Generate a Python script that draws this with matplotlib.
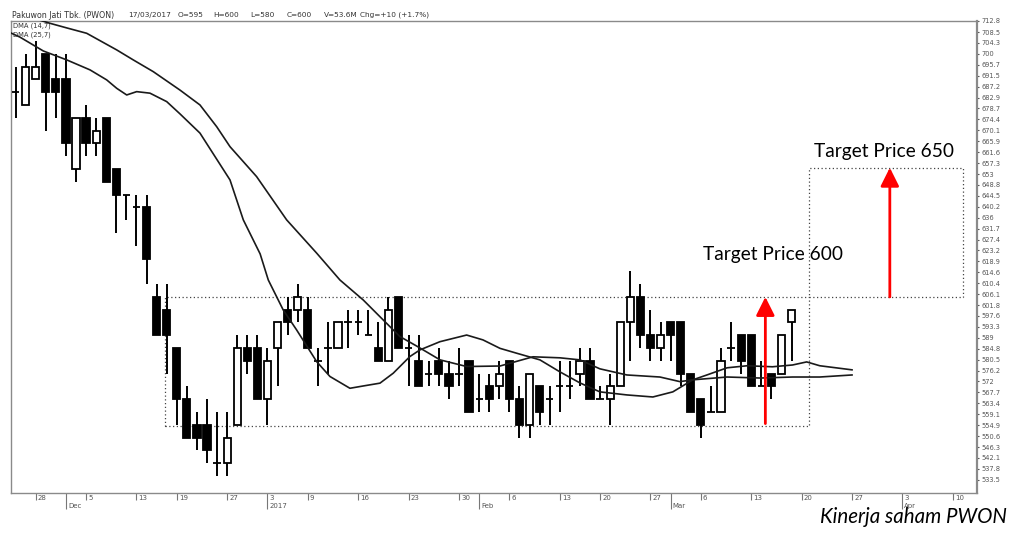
import matplotlib
matplotlib.use('Agg')
import matplotlib.pyplot as plt
from matplotlib.patches import Rectangle

# trading-day index, 0 = 28 Nov 2016 (holidays skipped)
day = list(range(-2, 76))
opens = [685, 680, 690, 700, 690, 690, 655, 675, 665, 675,
         655, 645, 640, 640, 605, 600, 585, 565, 555, 555,
         540, 540, 555, 585, 585, 565, 585, 600, 600, 600,
         580, 585, 585, 595, 595, 590, 585, 580, 605, 585,
         580, 575, 580, 575, 575, 580, 565, 570, 570, 580,
         565, 555, 570, 565, 570, 570, 575, 580, 565, 565,
         570, 595, 605, 590, 585, 595, 595, 575, 565, 560,
         560, 585, 590, 590, 570, 575, 575, 595]
highs = [695, 700, 705, 700, 700, 700, 675, 680, 675, 675,
         655, 645, 645, 645, 610, 610, 585, 570, 560, 565,
         560, 560, 590, 590, 590, 585, 595, 605, 610, 605,
         585, 595, 595, 600, 600, 600, 595, 605, 605, 590,
         590, 580, 585, 580, 585, 580, 575, 575, 580, 580,
         570, 575, 570, 570, 580, 580, 585, 585, 570, 575,
         595, 615, 610, 600, 595, 595, 595, 575, 565, 570,
         585, 595, 590, 590, 580, 575, 590, 600]
lows = [675, 680, 690, 670, 675, 660, 650, 660, 660, 650,
        630, 635, 625, 610, 590, 575, 555, 550, 545, 540,
        535, 535, 555, 575, 565, 555, 570, 590, 595, 585,
        570, 575, 585, 585, 590, 590, 580, 580, 585, 570,
        570, 570, 570, 565, 570, 560, 560, 560, 565, 560,
        550, 550, 555, 555, 560, 565, 570, 565, 565, 555,
        570, 580, 585, 580, 580, 580, 570, 560, 550, 560,
        560, 580, 575, 570, 570, 565, 575, 580]
closes = [685, 695, 695, 685, 685, 665, 675, 665, 670, 650,
          645, 645, 640, 620, 590, 590, 565, 550, 550, 545,
          540, 550, 585, 580, 565, 580, 595, 595, 605, 585,
          580, 585, 595, 595, 595, 590, 580, 600, 585, 585,
          570, 575, 575, 570, 575, 560, 565, 565, 575, 565,
          555, 575, 560, 565, 570, 570, 580, 565, 565, 570,
          595, 605, 590, 585, 590, 590, 575, 560, 555, 560,
          580, 585, 580, 570, 570, 570, 590, 600]

# displaced moving averages
dma14_day = [-2.45, -1.56, 0.75, 3.08, 5.39, 7.04, 8.04, 9.03, 10.02, 11.34,
             13.0, 14.32, 16.3, 19.28, 20.6, 22.27, 23.08, 24.56, 25.89, 27.88,
             29.2, 31.18, 32.5, 34.16, 35.48, 37.13, 38.13, 40.11, 42.76, 44.38,
             46.07, 47.72, 50.03, 52.02, 54.0, 55.98, 58.66, 61.24, 63.22, 65.2,
             66.6, 68.6, 70.6, 73.1, 75.1, 76.5, 77.8, 81.0]
dma14_val = [708.1, 706.5, 701.1, 697.6, 693.7, 689.8, 686.5, 683.9, 685.2, 684.6,
             681.3, 676.5, 669.0, 650.7, 635.1, 621.8, 611.6, 599.9, 592.1, 579.7,
             573.9, 569.3, 570.2, 571.3, 575.2, 581.7, 584.3, 587.5, 590.1, 588.2,
             584.9, 583.0, 580.4, 575.7, 571.4, 567.9, 566.7, 565.9, 567.9, 572.6,
             574.5, 577.3, 578.1, 577.7, 578.4, 579.6, 578.1, 576.5]
dma25_day = [-1.56, 1.42, 3.08, 5.06, 8.04, 9.68, 11.67, 14.32, 16.3, 17.96,
             19.28, 21.92, 24.9, 27.88, 30.19, 32.5, 34.48, 36.14, 37.8, 40.12,
             42.76, 46.07, 49.34, 52.02, 54.0, 55.98, 58.66, 61.94, 63.92, 65.2,
             68.6, 71.9, 75.1, 77.8, 81.0]
dma25_val = [715.5, 711.9, 710.1, 708.0, 701.5, 697.6, 693.0, 685.8, 680.0, 671.5,
             663.7, 652.0, 635.1, 622.1, 611.6, 603.8, 596.0, 589.5, 585.8, 580.4,
             577.8, 578.0, 581.6, 581.2, 580.4, 576.9, 574.5, 573.7, 571.9, 572.6,
             573.7, 573.3, 573.7, 573.7, 574.5]

y_labels = ['712.8', '708.5', '704.3', '700', '695.7', '691.5', '687.2', '682.9',
            '678.7', '674.4', '670.1', '665.9', '661.6', '657.3', '653', '648.8',
            '644.5', '640.2', '636', '631.7', '627.4', '623.2', '618.9', '614.6',
            '610.4', '606.1', '601.8', '597.6', '593.3', '589', '584.8', '580.5',
            '576.2', '572', '567.7', '563.4', '559.1', '554.9', '550.6', '546.3',
            '542.1', '537.8', '533.5']

week_days = [0, 5, 10, 14, 19, 23, 27, 32, 37, 42, 47, 52, 56, 61, 66, 71, 76, 81, 86, 91]
week_labels = ['28', '5', '13', '19', '27', '3', '9', '16', '23', '30',
               '6', '13', '20', '27', '6', '13', '20', '27', '3', '10']
month_days = [3, 23, 44, 63, 86]
month_labels = ['Dec', '2017', 'Feb', 'Mar', 'Apr']

support = 554.5
resistance = 605
target = 655.5
box_start, box_end, target_end = 12.83, 76.7, 92.0
arrow1_day, arrow2_day = 72.4, 84.75

fig = plt.figure(figsize=(10.13, 5.33), dpi=100)
ax = fig.add_axes([11 / 1013, 1 - 492.7 / 533, 966 / 1013, 471.7 / 533])

# candles
ax.vlines(day, lows, highs, color='black', lw=1.4, zorder=2)
bottoms = [min(o, c) for o, c in zip(opens, closes)]
heights = [abs(c - o) for o, c in zip(opens, closes)]
faces = ['white' if c >= o else 'black' for o, c in zip(opens, closes)]
ax.bar(day, heights, width=0.72, bottom=bottoms, color=faces,
       edgecolor='black', linewidth=1.3, zorder=3)

ax.plot(dma14_day, dma14_val, color='#1a1a1a', lw=1.2, zorder=4)
ax.plot(dma25_day, dma25_val, color='#1a1a1a', lw=1.2, zorder=4)

# dotted range boxes
ax.add_patch(Rectangle((box_start, support), box_end - box_start, resistance - support,
                       fill=False, ec='#444444', lw=0.9, ls=(0, (1, 2)), zorder=1))
ax.add_patch(Rectangle((box_end, resistance), target_end - box_end, target - resistance,
                       fill=False, ec='#444444', lw=0.9, ls=(0, (1, 2)), zorder=1))

arrow = dict(arrowstyle='-|>,head_length=0.8,head_width=0.4', color='red',
             lw=2.0, mutation_scale=14, shrinkA=0, shrinkB=0)
ax.annotate('', xy=(arrow1_day, resistance), xytext=(arrow1_day, support + 1), arrowprops=arrow, zorder=5)
ax.annotate('', xy=(arrow2_day, target), xytext=(arrow2_day, resistance), arrowprops=arrow, zorder=5)

ax.text(77.2, 659.6, 'Target Price 650', fontsize=13.8, family='Lato', va='baseline', color='black')
ax.text(66.2, 619.4, 'Target Price 600', fontsize=13.8, family='Lato', va='baseline', color='black')

ax.set_xlim(-2.45, 93.4)
ax.set_ylim(528.5, 712.8)

# axes styling
for side in ax.spines:
    ax.spines[side].set_color('#8a8a8a')
    ax.spines[side].set_linewidth(1.0)
ax.spines['right'].set_linewidth(1.6)

ax.yaxis.tick_right()
ax.set_yticks([float(v) for v in y_labels])
ax.set_yticklabels(y_labels)
ax.tick_params(axis='y', length=1.5, pad=1.5, labelsize=4.8, colors='#555555')

ax.set_xticks(month_days)
ax.set_xticklabels([])
ax.set_xticks(week_days, minor=True)
ax.tick_params(axis='x', which='major', length=11.5, width=0.8, color='#777777')
ax.tick_params(axis='x', which='minor', length=5, width=0.8, color='#777777')
for d, lab in zip(week_days, week_labels):
    ax.annotate(lab, xy=(d, 0), xycoords=('data', 'axes fraction'), xytext=(2, -2),
                textcoords='offset pixels', fontsize=5, color='#555555', va='top', ha='left')
for d, lab in zip(month_days, month_labels):
    ax.annotate(lab, xy=(d, 0), xycoords=('data', 'axes fraction'), xytext=(2, -10),
                textcoords='offset pixels', fontsize=5, color='#555555', va='top', ha='left')

ax.text(0.002, 0.997, 'DMA (14,7)', transform=ax.transAxes, fontsize=4.9, color='#333333', va='top')
ax.text(0.002, 0.978, 'DMA (25,7)', transform=ax.transAxes, fontsize=4.9, color='#333333', va='top')

# header
hy = 1 - 15 / 533
fig.text(12 / 1013, hy, 'Pakuwon Jati Tbk. (PWON)', fontsize=5.7, color='#333333', va='center')
header = [(128, '17/03/2017'), (178, 'O=595'), (213, 'H=600'), (250, 'L=580'),
          (287, 'C=600'), (324, 'V=53.6M'), (360, 'Chg=+10 (+1.7%)')]
for px, s in header:
    fig.text(px / 1013, hy, s, fontsize=5.3, color='#333333', va='center')

fig.text(1007 / 1013, 1 - 523 / 533, 'Kinerja saham PWON', fontsize=14.8, family='Lato',
         style='italic', ha='right', va='baseline', color='black')

fig.savefig('out.png', dpi=100, facecolor='white')
